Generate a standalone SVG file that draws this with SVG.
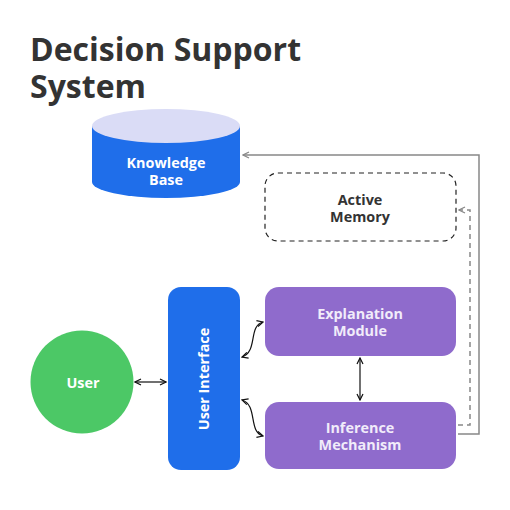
<svg xmlns="http://www.w3.org/2000/svg" width="510" height="510" viewBox="0 0 510 510">
<style>
.title{font-family:"Open Sans","Noto Sans",sans-serif;font-weight:700;font-size:32px;fill:#333}
.lbl{font-family:"Open Sans","Noto Sans",sans-serif;font-weight:700;font-size:14.4px;text-anchor:middle}
.w{fill:#fff}
.purple-t{fill:#f1ecfa}
.dark{fill:#333}
.blk{stroke:#111;stroke-width:1.2;fill:none}
.gry{stroke:#888;stroke-width:1.5;fill:none}
.gryd{stroke:#888;stroke-width:1.5;fill:none;stroke-dasharray:5 4}
</style>
<defs>
<marker id="ab" viewBox="0 0 8 8" refX="7" refY="4" markerWidth="8" markerHeight="8" markerUnits="userSpaceOnUse" orient="auto-start-reverse">
<path d="M1,1 L7,4 L1,7" fill="none" stroke="#111" stroke-width="1.2"/>
</marker>
<marker id="ag" viewBox="0 0 8 8" refX="7" refY="4" markerWidth="8" markerHeight="8" markerUnits="userSpaceOnUse" orient="auto-start-reverse">
<path d="M1,1 L7,4 L1,7" fill="none" stroke="#888" stroke-width="1.3"/>
</marker>
</defs>
<rect width="510" height="510" fill="#fff"/>
<text class="title" x="30" y="61">Decision Support</text>
<text class="title" x="30" y="98">System</text>

<g id="connectors">
<path class="gry" d="M458,434 H479 V155 H243" marker-end="url(#ag)"/>
<path class="gryd" d="M458,425 H470 V210 H459" marker-end="url(#ag)"/>
<path class="blk" d="M135,382 H166" marker-start="url(#ab)" marker-end="url(#ab)"/>
<path class="blk" d="M242,357 C258,352 248,326 263,322" marker-start="url(#ab)" marker-end="url(#ab)"/>
<path class="blk" d="M242,400 C258,405 248,432 263,436" marker-start="url(#ab)" marker-end="url(#ab)"/>
<path class="blk" d="M360,358 V400" marker-start="url(#ab)" marker-end="url(#ab)"/>
</g>

<g id="knowledge-base">
<path d="M92,126 V182 A74,16 0 0 0 240,182 V126 Z" fill="#1f6eea"/>
<ellipse cx="166" cy="126" rx="74" ry="17" fill="#dadcf6"/>
<text class="lbl w" x="166" y="168">Knowledge</text>
<text class="lbl w" x="166" y="185">Base</text>
</g>

<g id="active-memory">
<rect x="265" y="173" width="191" height="68" rx="13" fill="#fff" stroke="#222" stroke-width="1.2" stroke-dasharray="5 4"/>
<text class="lbl dark" x="360" y="205">Active</text>
<text class="lbl dark" x="360" y="222">Memory</text>
</g>

<g id="user">
<circle cx="82" cy="382" r="51.5" fill="#4cc866"/>
<text class="lbl w" x="83" y="388">User</text>
</g>

<g id="user-interface">
<rect x="168" y="287" width="72" height="183" rx="13" fill="#1f6eea"/>
<text class="lbl w" transform="translate(209,379) rotate(-90)" x="0" y="0">User Interface</text>
</g>

<g id="explanation-module">
<rect x="265" y="287" width="191" height="69" rx="14" fill="#8f6bcc"/>
<text class="lbl purple-t" x="360" y="319">Explanation</text>
<text class="lbl purple-t" x="360" y="336">Module</text>
</g>

<g id="inference-mechanism">
<rect x="265" y="402" width="191" height="67" rx="14" fill="#8f6bcc"/>
<text class="lbl purple-t" x="360" y="433">Inference</text>
<text class="lbl purple-t" x="360" y="450">Mechanism</text>
</g>
</svg>
